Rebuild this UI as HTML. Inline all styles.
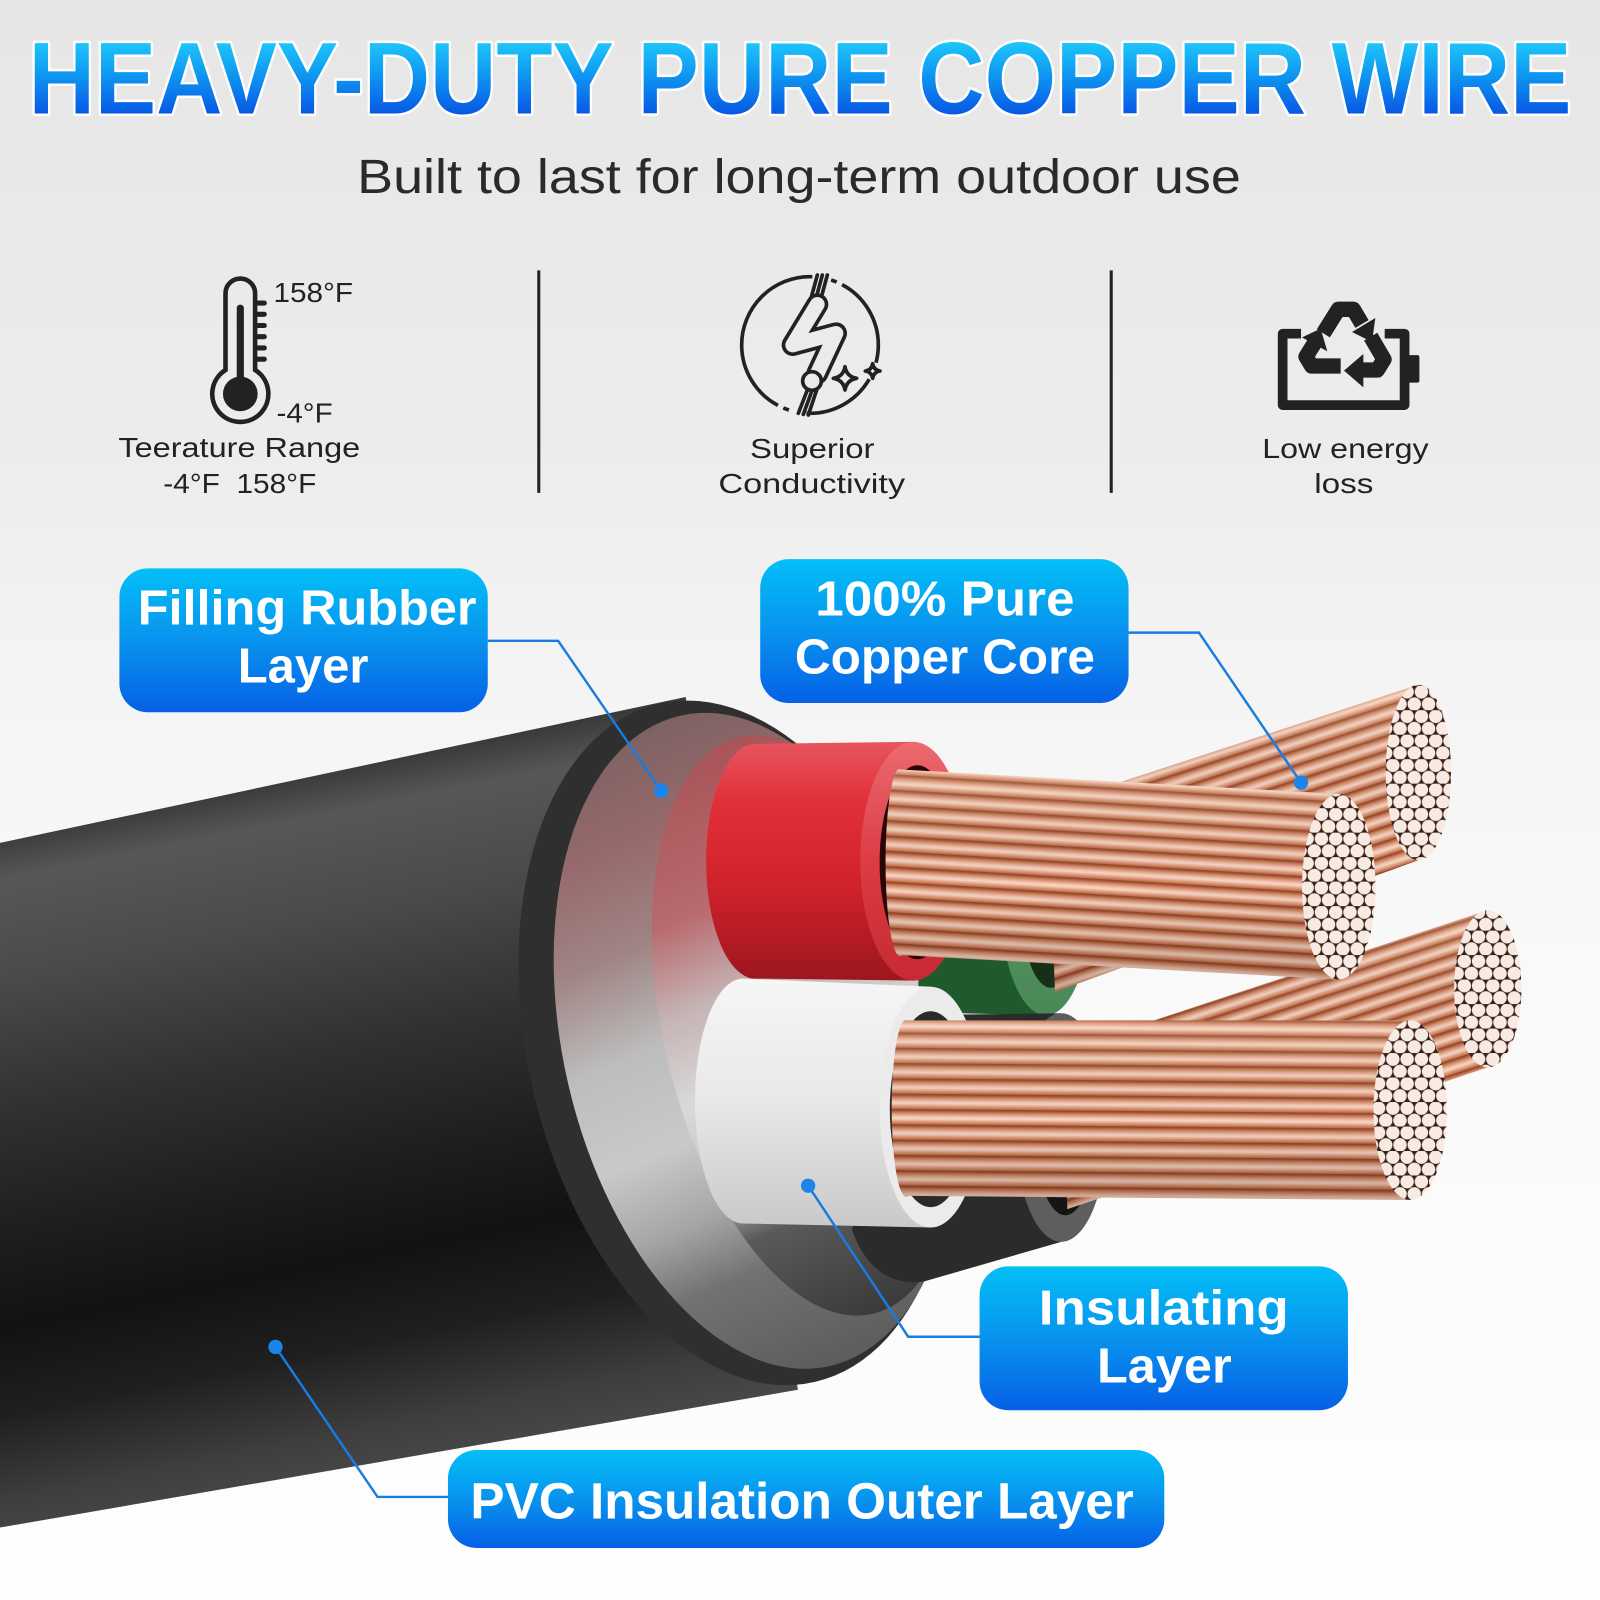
<!DOCTYPE html>
<html><head><meta charset="utf-8"><style>
html,body{margin:0;padding:0;width:1600px;height:1600px;overflow:hidden;background:#f2f2f2}
svg{display:block}
text{font-family:"Liberation Sans",Arial,sans-serif}
</style></head><body>
<svg width="1600" height="1600" viewBox="0 0 1568 1568" xmlns="http://www.w3.org/2000/svg">
<defs>
<linearGradient id="bg" x1="0" y1="0" x2="0" y2="1">
<stop offset="0" stop-color="#e6e6e6"/><stop offset="0.3" stop-color="#ededed"/><stop offset="0.42" stop-color="#f4f4f4"/><stop offset="0.6" stop-color="#f9f9f9"/><stop offset="1" stop-color="#fefefe"/>
</linearGradient>
<linearGradient id="tg" gradientUnits="userSpaceOnUse" x1="0" y1="40" x2="0" y2="112">
<stop offset="0" stop-color="#1fc8fb"/><stop offset="0.5" stop-color="#0d93f0"/><stop offset="1" stop-color="#0857e4"/>
</linearGradient>
<linearGradient id="bx" x1="0" y1="0" x2="0" y2="1">
<stop offset="0" stop-color="#03bff7"/><stop offset="0.5" stop-color="#0893ee"/><stop offset="1" stop-color="#0660e6"/>
</linearGradient>
<linearGradient id="jk" gradientUnits="userSpaceOnUse" x1="300" y1="760" x2="436" y2="1442">
<stop offset="0" stop-color="#3a3a3a"/><stop offset="0.06" stop-color="#575757"/><stop offset="0.2" stop-color="#4a4a4a"/><stop offset="0.38" stop-color="#313131"/><stop offset="0.56" stop-color="#1d1d1d"/><stop offset="0.68" stop-color="#121212"/><stop offset="0.8" stop-color="#1f1f1f"/><stop offset="0.92" stop-color="#3e3e3e"/><stop offset="1" stop-color="#4a4a4a"/>
</linearGradient>
<linearGradient id="e2" gradientUnits="userSpaceOnUse" x1="690" y1="700" x2="800" y2="1340">
<stop offset="0" stop-color="#7e6262"/><stop offset="0.15" stop-color="#966a6c"/><stop offset="0.3" stop-color="#a08484"/><stop offset="0.45" stop-color="#bdbdbd"/><stop offset="0.6" stop-color="#c9c9c9"/><stop offset="0.72" stop-color="#a5a5a5"/><stop offset="0.82" stop-color="#727272"/><stop offset="1" stop-color="#5c5c5c"/>
</linearGradient>
<linearGradient id="e3" gradientUnits="userSpaceOnUse" x1="740" y1="721" x2="840" y2="1289">
<stop offset="0" stop-color="#a85458"/><stop offset="0.25" stop-color="#b86a6e"/><stop offset="0.4" stop-color="#c6b4b4"/><stop offset="0.55" stop-color="#d9d9d9"/><stop offset="0.7" stop-color="#c2c2c2"/><stop offset="0.8" stop-color="#5a5a5a"/><stop offset="1" stop-color="#3a3a3a"/>
</linearGradient>
<linearGradient id="rg" x1="0" y1="0" x2="0" y2="1">
<stop offset="0" stop-color="#e8555d"/><stop offset="0.25" stop-color="#e2303a"/><stop offset="0.6" stop-color="#d0222a"/><stop offset="1" stop-color="#9c161e"/>
</linearGradient>
<linearGradient id="rf" x1="0" y1="0" x2="0" y2="1">
<stop offset="0" stop-color="#ec6a70"/><stop offset="0.5" stop-color="#dc3c44"/><stop offset="1" stop-color="#c72a32"/>
</linearGradient>
<linearGradient id="wg" x1="0" y1="0" x2="0" y2="1">
<stop offset="0" stop-color="#f6f6f6"/><stop offset="0.5" stop-color="#e8e8e8"/><stop offset="1" stop-color="#c9c9c9"/>
</linearGradient>
<linearGradient id="gf" x1="0" y1="0" x2="0" y2="1">
<stop offset="0" stop-color="#5e9c6c"/><stop offset="1" stop-color="#4a8858"/>
</linearGradient>
<linearGradient id="stp" x1="0" y1="0" x2="0" y2="1">
<stop offset="0" stop-color="#9a4a2a"/><stop offset="0.18" stop-color="#cf8462"/><stop offset="0.42" stop-color="#f2c3ac"/><stop offset="0.55" stop-color="#f8d8c8"/><stop offset="0.75" stop-color="#e09c7c"/><stop offset="1" stop-color="#b05a36"/>
</linearGradient>
<linearGradient id="sh" x1="0" y1="0" x2="0" y2="1">
<stop offset="0" stop-color="#ffe8dc" stop-opacity="0.18"/><stop offset="0.55" stop-color="#000" stop-opacity="0"/><stop offset="1" stop-color="#3a1408" stop-opacity="0.22"/>
</linearGradient>
<pattern id="cuA" width="400" height="15" patternUnits="userSpaceOnUse" patternTransform="rotate(3.5)"><rect width="400" height="15" fill="url(#stp)"/><rect y="14" width="400" height="1" fill="#7a3418" opacity=".5"/></pattern>
<pattern id="cuB" width="400" height="14" patternUnits="userSpaceOnUse" patternTransform="rotate(-18)"><rect width="400" height="14" fill="url(#stp)"/><rect y="13" width="400" height="1" fill="#7a3418" opacity=".5"/></pattern>
<pattern id="cuC" width="400" height="14" patternUnits="userSpaceOnUse" patternTransform="rotate(-18)"><rect width="400" height="14" fill="url(#stp)"/><rect y="13" width="400" height="1" fill="#7a3418" opacity=".5"/></pattern>
<pattern id="cuD" width="400" height="15" patternUnits="userSpaceOnUse" patternTransform="rotate(0.5)"><rect width="400" height="15" fill="url(#stp)"/><rect y="14" width="400" height="1" fill="#7a3418" opacity=".5"/></pattern>
<pattern id="str" width="14" height="24" patternUnits="userSpaceOnUse"><rect width="14" height="24" fill="#3b1f14"/><circle cx="7" cy="6" r="6.6" fill="#f7eae2"/><circle cx="0" cy="18" r="6.6" fill="#f7eae2"/><circle cx="14" cy="18" r="6.6" fill="#f7eae2"/></pattern>
</defs>

<rect width="1568" height="1568" fill="url(#bg)"/>

<!-- Title -->
<text x="784" y="111" text-anchor="middle" font-weight="bold" font-size="100" textLength="1512" lengthAdjust="spacingAndGlyphs" fill="url(#tg)" stroke="#ffffff" stroke-width="5" paint-order="stroke" stroke-linejoin="round">HEAVY-DUTY PURE COPPER WIRE</text>
<text x="783" y="189" text-anchor="middle" font-size="47" textLength="866" lengthAdjust="spacingAndGlyphs" fill="#2a2a2a">Built to last for long-term outdoor use</text>

<!-- Dividers -->
<line x1="528" y1="265" x2="528" y2="483" stroke="#222" stroke-width="3"/>
<line x1="1089" y1="265" x2="1089" y2="483" stroke="#222" stroke-width="3"/>

<!-- Thermometer -->
<g stroke="#222" fill="none">
<path d="M221,362.6 V287.5 A14.5,14.5 0 0 1 250,287.5 V362.6 A27.5,27.5 0 1 1 221,362.6 Z" stroke-width="4.5"/>
<line x1="235.5" y1="302" x2="235.5" y2="380" stroke-width="7" stroke-linecap="round"/>
<g stroke-width="5" stroke-linecap="round">
<line x1="253" y1="297" x2="259" y2="297"/><line x1="253" y1="308" x2="259" y2="308"/><line x1="253" y1="319" x2="259" y2="319"/><line x1="253" y1="330" x2="259" y2="330"/><line x1="253" y1="341" x2="259" y2="341"/><line x1="253" y1="352" x2="259" y2="352"/>
</g>
</g>
<circle cx="235.5" cy="386" r="17" fill="#222"/>
<g fill="#222" font-size="27.5">
<text x="268" y="296" textLength="78" lengthAdjust="spacingAndGlyphs">158°F</text>
<text x="271" y="414" textLength="55" lengthAdjust="spacingAndGlyphs">-4°F</text>
<text x="116" y="448" textLength="237" lengthAdjust="spacingAndGlyphs">Teerature Range</text>
<text x="160" y="483" textLength="150" lengthAdjust="spacingAndGlyphs" style="white-space:pre">-4°F  158°F</text>
<text x="796" y="449" text-anchor="middle" textLength="122" lengthAdjust="spacingAndGlyphs">Superior</text>
<text x="795.5" y="483" text-anchor="middle" textLength="183" lengthAdjust="spacingAndGlyphs">Conductivity</text>
<text x="1318.5" y="449" text-anchor="middle" textLength="163" lengthAdjust="spacingAndGlyphs">Low energy</text>
<text x="1317" y="483" text-anchor="middle" textLength="58" lengthAdjust="spacingAndGlyphs">loss</text>
</g>

<!-- Conductivity icon -->
<g transform="translate(715.4,259.7) scale(0.32667)" fill="none" stroke="#222" stroke-width="11" stroke-linecap="round" stroke-linejoin="round">
<circle cx="240" cy="240" r="205" pathLength="360" stroke-dasharray="15 15 63 15 5 5 154 16 5 5 62 0" stroke-linecap="butt"/>
<line x1="262" y1="30" x2="243" y2="100"/><line x1="277" y1="30" x2="258" y2="100"/><line x1="292" y1="30" x2="273" y2="100"/>
<path d="M262,118 L188,240 L318,205 L262,325" stroke-width="66"/>
<path d="M262,118 L188,240 L318,205 L262,325" stroke="#ebebeb" stroke-width="44"/>
<circle cx="246" cy="348" r="28" fill="#ebebeb"/>
<line x1="232" y1="375" x2="205" y2="445"/><line x1="246" y1="377" x2="220" y2="448"/><line x1="260" y1="375" x2="235" y2="450"/>
<path d="M345,305 Q350,335 380,340 Q350,345 345,375 Q340,345 310,340 Q340,335 345,305 Z"/>
<path d="M428,296 Q431,315 450,318 Q431,321 428,340 Q425,321 406,318 Q425,315 428,296 Z"/>
</g>

<!-- Battery / recycle icon -->
<g stroke="#222" fill="none" stroke-width="9.5" stroke-linejoin="round">
<path d="M1275,327 H1257 V397 H1376.5 V327 H1357"/>
</g>
<rect x="1380" y="348" width="11" height="27" rx="2" fill="#222"/>
<g transform="translate(1244.6,284.2) scale(0.32667)">
<g stroke="#222" stroke-width="46" fill="none" stroke-linejoin="round">
<path d="M160,130 L205,58 L250,58 L276,102"/>
<path d="M302,140 L342,208 L322,240 L278,240"/>
<path d="M212,228 L125,228 L108,200 L133,160"/>
</g>
<g fill="#222">
<polygon points="316,84 246,126 306,156"/>
<polygon points="280,192 280,292 222,242"/>
<polygon points="172,184 96,142 152,116"/>
</g>
</g>

<!-- Cable jacket -->
<path d="M0,826 L672,683 L782,1362 L0,1497 Z" fill="url(#jk)"/>
<ellipse cx="722" cy="1022" rx="205" ry="341" transform="rotate(-13 722 1022)" fill="#2f2f2f"/>
<ellipse cx="740" cy="1020" rx="188" ry="327" transform="rotate(-13 740 1020)" fill="url(#e2)"/>
<ellipse cx="790" cy="1005" rx="140" ry="290" transform="rotate(-13 790 1005)" fill="url(#e3)"/>

<!-- Green conductor -->
<path d="M900,768 L1025,765 L1025,995 L900,992 Z" fill="#1e5a2c"/>
<ellipse cx="1025" cy="880" rx="45" ry="115" fill="url(#gf)"/>
<ellipse cx="1030" cy="882" rx="30" ry="86" fill="#163018"/>
<!-- Black conductor -->
<path d="M880,995 L1040,993 L1040,1217 L905,1256 Q855,1262 835,1205 Z" fill="#2b2b2b"/>
<ellipse cx="1040" cy="1105" rx="45" ry="112" fill="#5e5e5e"/>
<ellipse cx="1044" cy="1107" rx="30" ry="84" fill="#151515"/>

<!-- Copper B (back top) -->
<path d="M1026,790 L1390,671 L1390,843 L1034,972 Z" fill="url(#cuB)"/>
<path d="M1026,790 L1390,671 L1390,843 L1034,972 Z" fill="url(#sh)"/>
<ellipse cx="1390" cy="757" rx="32" ry="86" fill="url(#str)"/>
<!-- Copper C (back bottom) -->
<path d="M1040,1030 L1458,892 L1458,1046 L1046,1185 Z" fill="url(#cuC)"/>
<path d="M1040,1030 L1458,892 L1458,1046 L1046,1185 Z" fill="url(#sh)"/>
<ellipse cx="1458" cy="969" rx="33" ry="77" fill="url(#str)"/>

<!-- Red conductor -->
<path d="M740,729 L895,727 L895,961 L740,959 A48,115 0 0 1 740,729 Z" fill="url(#rg)"/>
<ellipse cx="895" cy="844" rx="52" ry="117" fill="url(#rf)"/>
<ellipse cx="899" cy="845" rx="37" ry="95" fill="#2a0606"/>
<!-- White conductor -->
<path d="M728,959 L912,967 L912,1203 L728,1199 A47,120 0 0 1 728,959 Z" fill="url(#wg)"/>
<ellipse cx="912" cy="1085" rx="50" ry="118" fill="#ebebeb"/>
<ellipse cx="912" cy="1087" rx="40" ry="96" fill="#2a2a2a"/>

<!-- Copper A (front top) -->
<path d="M880,754 L1312,778 L1312,960 L884,936 A14,91 0 0 1 880,754 Z" fill="url(#cuA)"/>
<path d="M880,754 L1312,778 L1312,960 L884,936 A14,91 0 0 1 880,754 Z" fill="url(#sh)"/>
<ellipse cx="1312" cy="869" rx="36" ry="91" fill="url(#str)"/>
<!-- Copper D (front bottom) -->
<path d="M886,1000 L1382,1000 L1382,1176 L890,1172 A14,86 0 0 1 886,1000 Z" fill="url(#cuD)"/>
<path d="M886,1000 L1382,1000 L1382,1176 L890,1172 A14,86 0 0 1 886,1000 Z" fill="url(#sh)"/>
<ellipse cx="1382" cy="1088" rx="36" ry="88" fill="url(#str)"/>

<!-- Connectors -->
<g stroke="#1a7be0" stroke-width="2.4" fill="none">
<polyline points="478,628 547,628 648,775"/>
<polyline points="1106,620 1175,620 1275,767"/>
<polyline points="960,1310 890,1310 792,1162"/>
<polyline points="440,1467 370,1467 270,1320"/>
</g>
<g fill="#1d84ea">
<circle cx="648" cy="775" r="7"/><circle cx="1275" cy="767" r="7"/><circle cx="792" cy="1162" r="7"/><circle cx="270" cy="1320" r="7"/>
</g>

<!-- Callout boxes -->
<rect x="117" y="557" width="361" height="141" rx="28" fill="url(#bx)"/>
<rect x="745" y="548" width="361" height="141" rx="28" fill="url(#bx)"/>
<rect x="960" y="1241" width="361" height="141" rx="28" fill="url(#bx)"/>
<rect x="439" y="1421" width="702" height="96" rx="28" fill="url(#bx)"/>
<g fill="#ffffff" font-weight="bold" font-size="48" text-anchor="middle">
<text x="301" y="612" textLength="332" lengthAdjust="spacingAndGlyphs">Filling Rubber</text>
<text x="297" y="669" textLength="128" lengthAdjust="spacingAndGlyphs">Layer</text>
<text x="926" y="603" textLength="254" lengthAdjust="spacingAndGlyphs">100% Pure</text>
<text x="926" y="660" textLength="294" lengthAdjust="spacingAndGlyphs">Copper Core</text>
<text x="1140.5" y="1298" textLength="245" lengthAdjust="spacingAndGlyphs">Insulating</text>
<text x="1141" y="1355" textLength="132" lengthAdjust="spacingAndGlyphs">Layer</text>
<text x="786" y="1488" font-size="50" textLength="650" lengthAdjust="spacingAndGlyphs">PVC Insulation Outer Layer</text>
</g>
</svg>
</body></html>
